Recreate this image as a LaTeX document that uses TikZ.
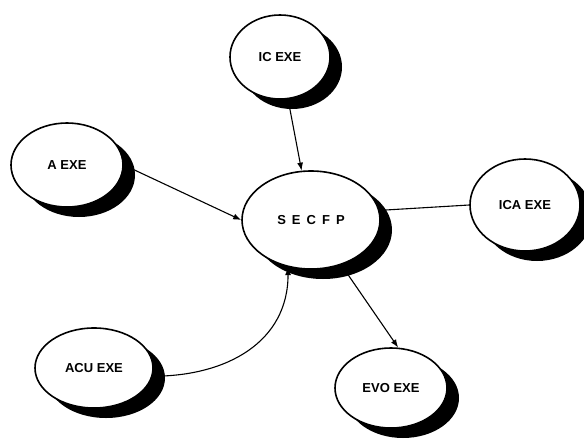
\documentclass[tikz,border=0pt]{standalone}
\usepackage{fontspec}
\setmainfont{Liberation Sans}
\usetikzlibrary{shapes.geometric,arrows.meta,shadows}
\begin{document}
\begin{tikzpicture}[x=1pt,y=-1pt,
  bubble/.style={ellipse,draw=black,line width=1.6pt,fill=white,inner sep=0pt,
    font=\fontsize{13}{15}\selectfont\bfseries,
    drop shadow={shadow xshift=12pt,shadow yshift=-10pt,opacity=1,fill=black}},
  link/.style={line width=1.1pt},
  arr/.style={link,-{Latex[length=8pt,width=6pt]}}]
\useasboundingbox (0,0) rectangle (584,442);
\node[bubble,minimum width=100pt,minimum height=84pt] (ic) at (280,57) {IC EXE};
\node[bubble,minimum width=112pt,minimum height=84pt] (a) at (67,165) {A EXE};
\node[bubble,minimum width=118pt,minimum height=80pt] (acu) at (94,368) {ACU EXE};
\node[bubble,minimum width=112pt,minimum height=80pt] (evo) at (391,388) {EVO EXE};
\node[bubble,minimum width=110pt,minimum height=92pt] (ica) at (525,205) {ICA EXE};
\node[bubble,minimum width=138pt,minimum height=98pt] (secfp) at (311,220) {\spaceskip=6pt S E C F P};
\draw[arr] (ic) -- (secfp);
\draw[arr] (a.east) -- (secfp.west);
\draw[link] (ica.west) -- (secfp.8);
\draw[arr] (secfp.-56) -- (evo.80);
\draw[arr] (acu.-8) to[out=0,in=-90,looseness=1.1] (secfp.-116);
\end{tikzpicture}
\end{document}
